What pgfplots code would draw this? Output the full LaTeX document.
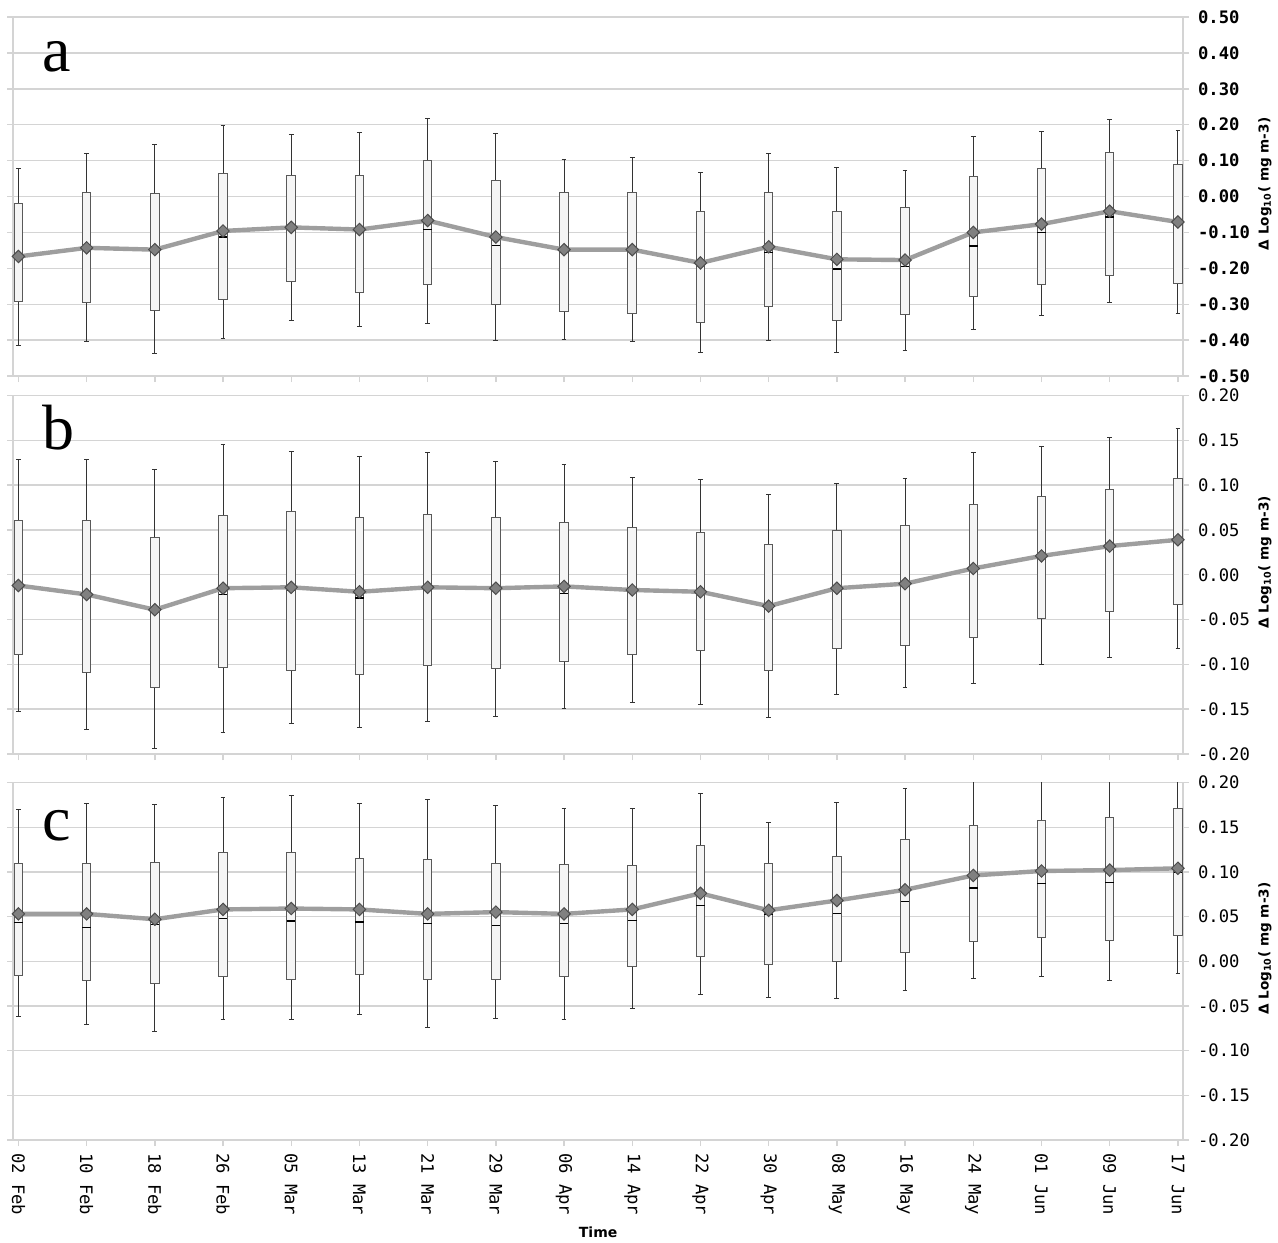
\documentclass[border=0pt]{standalone}
\usepackage{fontspec}
\usepackage{pgfplots}
\pgfplotsset{compat=1.18}
\usepackage{pgfplotstable}
\usepgfplotslibrary{statistics}

\newfontfamily\monofont{DejaVu Sans Mono}
\newfontfamily\labfont{DejaVu Sans}
\newfontfamily\letterfont{Liberation Serif}

% columns: position, lower whisker, lower quartile, median, upper quartile, upper whisker, mean
\pgfplotstableread{
pos lw lq med uq uw mean
0  -0.415 -0.292 -0.170 -0.019 0.078 -0.167
1  -0.405 -0.295 -0.146  0.011 0.119 -0.143
2  -0.437 -0.318 -0.150  0.008 0.144 -0.148
3  -0.394 -0.286 -0.113  0.063 0.198 -0.096
4  -0.346 -0.238 -0.090  0.059 0.174 -0.086
5  -0.361 -0.266 -0.095  0.059 0.179 -0.092
6  -0.353 -0.246 -0.093  0.100 0.217 -0.067
7  -0.400 -0.302 -0.137  0.045 0.176 -0.113
8  -0.397 -0.321 -0.150  0.011 0.103 -0.148
9  -0.404 -0.326 -0.150  0.011 0.109 -0.148
10 -0.433 -0.352 -0.190 -0.041 0.066 -0.185
11 -0.401 -0.307 -0.157  0.012 0.121 -0.140
12 -0.435 -0.344 -0.202 -0.042 0.081 -0.175
13 -0.428 -0.330 -0.196 -0.031 0.072 -0.177
14 -0.371 -0.278 -0.138  0.055 0.167 -0.100
15 -0.331 -0.246 -0.101  0.077 0.180 -0.077
16 -0.295 -0.219 -0.057  0.123 0.214 -0.041
17 -0.327 -0.243 -0.072  0.089 0.183 -0.071
}\dataA

\pgfplotstableread{
pos lw lq med uq uw mean
0  -0.153 -0.089 -0.014 0.060 0.129 -0.012
1  -0.173 -0.109 -0.024 0.060 0.129 -0.022
2  -0.194 -0.126 -0.041 0.042 0.117 -0.039
3  -0.176 -0.103 -0.022 0.066 0.145 -0.015
4  -0.166 -0.107 -0.018 0.071 0.138 -0.014
5  -0.170 -0.111 -0.026 0.064 0.132 -0.019
6  -0.164 -0.101 -0.016 0.067 0.137 -0.014
7  -0.158 -0.105 -0.018 0.064 0.126 -0.015
8  -0.149 -0.097 -0.021 0.058 0.123 -0.013
9  -0.143 -0.089 -0.019 0.053 0.109 -0.017
10 -0.145 -0.084 -0.021 0.047 0.106 -0.019
11 -0.159 -0.107 -0.037 0.034 0.090 -0.035
12 -0.133 -0.082 -0.017 0.049 0.102 -0.015
13 -0.126 -0.079 -0.012 0.055 0.107 -0.010
14 -0.121 -0.070  0.005 0.078 0.136  0.007
15 -0.100 -0.049  0.019 0.087 0.143  0.021
16 -0.092 -0.041  0.030 0.095 0.153  0.032
17 -0.082 -0.033  0.038 0.107 0.163  0.039
}\dataB

\pgfplotstableread{
pos lw lq med uq uw mean
0  -0.062 -0.016 0.043 0.109 0.170 0.053
1  -0.071 -0.022 0.038 0.109 0.177 0.053
2  -0.079 -0.025 0.041 0.111 0.175 0.047
3  -0.065 -0.017 0.048 0.122 0.183 0.058
4  -0.065 -0.020 0.045 0.122 0.185 0.059
5  -0.059 -0.015 0.044 0.115 0.177 0.058
6  -0.074 -0.020 0.042 0.114 0.181 0.053
7  -0.064 -0.020 0.040 0.109 0.174 0.055
8  -0.065 -0.017 0.042 0.108 0.171 0.053
9  -0.053 -0.006 0.046 0.107 0.171 0.058
10 -0.037  0.005 0.062 0.130 0.188 0.076
11 -0.040 -0.004 0.052 0.109 0.155 0.057
12 -0.042  0.000 0.053 0.117 0.178 0.068
13 -0.033  0.010 0.067 0.136 0.193 0.080
14 -0.019  0.022 0.082 0.152 0.215 0.096
15 -0.017  0.027 0.087 0.157 0.225 0.101
16 -0.022  0.023 0.088 0.161 0.225 0.102
17 -0.014  0.029 0.099 0.171 0.230 0.104
}\dataC

\definecolor{gridgray}{RGB}{212,212,212}
\definecolor{meanline}{RGB}{158,158,158}
\definecolor{meanmark}{RGB}{128,128,128}

% one prepared box plot per row of a table
\newcommand\drawboxes[1]{%
  \pgfplotsinvokeforeach{0,...,17}{%
    \pgfplotstablegetelem{##1}{lw}\of#1\edef\vlw{\pgfplotsretval}%
    \pgfplotstablegetelem{##1}{lq}\of#1\edef\vlq{\pgfplotsretval}%
    \pgfplotstablegetelem{##1}{med}\of#1\edef\vmed{\pgfplotsretval}%
    \pgfplotstablegetelem{##1}{uq}\of#1\edef\vuq{\pgfplotsretval}%
    \pgfplotstablegetelem{##1}{uw}\of#1\edef\vuw{\pgfplotsretval}%
    \edef\doplot{\noexpand\addplot[boxplot prepared={draw position=##1,
      lower whisker=\vlw, lower quartile=\vlq, median=\vmed,
      upper quartile=\vuq, upper whisker=\vuw}] coordinates {};}%
    \doplot
  }%
}

\pgfplotsset{
  panel/.style={
    scale only axis, width=584.85pt,
    xmin=-0.075, xmax=17.075,
    xtick={0,...,17}, xticklabels={},
    xtick pos=left, ytick pos=both, yticklabel pos=right,
    tick align=outside, major tick length=3pt,
    tick style={gridgray, line width=0.7pt},
    axis line style={gridgray, line width=0.8pt},
    ymajorgrids, grid style={gridgray, line width=0.7pt},
    yticklabel style={anchor=west, font=\fontsize{8.6pt}{10pt}\selectfont\monofont, xshift=1pt},
    ylabel={\labfont\bfseries Δ Log\textsubscript{10}( mg m-3)},
    ylabel style={at={(axis description cs:1.0701,0.535)}, anchor=center,
      font=\fontsize{6.8pt}{8pt}\selectfont},
    boxplot/draw direction=y,
    boxplot/box extend=0.125,
    boxplot/whisker extend=0.07,
    boxplot/every box/.style={draw=black!65, fill=black!4, line width=0.5pt},
    boxplot/every whisker/.style={black!80, line width=0.45pt},
    boxplot/every median/.style={black, line width=0.6pt},
  },
  meanstyle/.style={meanline, line width=2.2pt, mark=square*, mark size=2.2pt,
    mark options={rotate=45, fill=meanmark, draw=black!70, line width=0.5pt}},
}

\begin{document}
\begin{tikzpicture}[x=1pt,y=1pt]
\useasboundingbox (0,0) rectangle (639,-621);

% panel a
\begin{axis}[panel, at={(6.65pt,-8.5pt)}, anchor=north west, height=179.5pt,
  ymin=-0.5, ymax=0.5,
  ytick={-0.5,-0.4,-0.3,-0.2,-0.1,0,0.1,0.2,0.3,0.4,0.5},
  yticklabels={-0.50,-0.40,-0.30,-0.20,-0.10,0.00,0.10,0.20,0.30,0.40,0.50},
  yticklabel style={font=\fontsize{8.6pt}{10pt}\selectfont\monofont\bfseries}]
\drawboxes{\dataA}
\addplot[meanstyle] table[x=pos, y=mean] {\dataA};
\node[anchor=base west, font=\fontsize{32pt}{32pt}\selectfont\letterfont]
  at (axis description cs:0.0186,0.847) {a};
\end{axis}

% panel b
\begin{axis}[panel, at={(6.65pt,-197.75pt)}, anchor=north west, height=179.25pt,
  ymin=-0.2, ymax=0.2,
  ytick={-0.2,-0.15,-0.1,-0.05,0,0.05,0.1,0.15,0.2},
  yticklabels={-0.20,-0.15,-0.10,-0.05,0.00,0.05,0.10,0.15,0.20}]
\drawboxes{\dataB}
\addplot[meanstyle] table[x=pos, y=mean] {\dataB};
\node[anchor=base west, font=\fontsize{32pt}{32pt}\selectfont\letterfont]
  at (axis description cs:0.0186,0.848) {b};
\end{axis}

% panel c
\begin{axis}[panel, at={(6.65pt,-391.25pt)}, anchor=north west, height=178.75pt,
  ymin=-0.2, ymax=0.2,
  ytick={-0.2,-0.15,-0.1,-0.05,0,0.05,0.1,0.15,0.2},
  yticklabels={-0.20,-0.15,-0.10,-0.05,0.00,0.05,0.10,0.15,0.20},
  xticklabels={02 Feb,10 Feb,18 Feb,26 Feb,05 Mar,13 Mar,21 Mar,29 Mar,06 Apr,
    14 Apr,22 Apr,30 Apr,08 May,16 May,24 May,01 Jun,09 Jun,17 Jun},
  xticklabel style={rotate=-90, anchor=west, font=\fontsize{8.6pt}{10pt}\selectfont\monofont},
  xlabel={Time},
  xlabel style={at={(axis description cs:0.5,0)}, anchor=center, yshift=-46pt,
    font=\fontsize{7pt}{8pt}\selectfont\labfont\bfseries}]
\drawboxes{\dataC}
\addplot[meanstyle] table[x=pos, y=mean] {\dataC};
\node[anchor=base west, font=\fontsize{32pt}{32pt}\selectfont\letterfont]
  at (axis description cs:0.0186,0.839) {c};
\end{axis}
\end{tikzpicture}
\end{document}
